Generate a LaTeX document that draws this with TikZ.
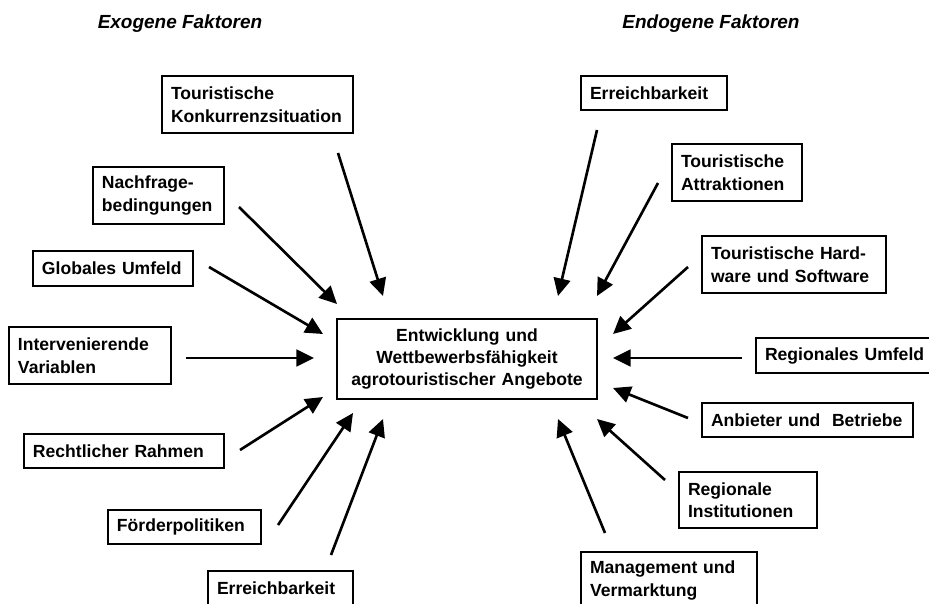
\documentclass[tikz,border=0pt]{standalone}
\usepackage{fontspec}
\setmainfont{Liberation Sans}
\usetikzlibrary{arrows.meta}

\tikzset{
  faktor/.style={draw, line width=0.9pt, anchor=north west, outer sep=0pt,
    inner xsep=0.18cm, inner ysep=1pt, align=left,
    font=\fontsize{10}{12.8}\selectfont\bfseries},
  kern/.style={draw, line width=0.9pt, anchor=north west, outer sep=0pt,
    inner xsep=0.18cm, inner ysep=1pt, align=center,
    text width=4.84cm, minimum height=1.6cm,
    font=\fontsize{10}{12.8}\selectfont\bfseries},
  titel/.style={font=\fontsize{10.8}{13}\selectfont\bfseries\itshape},
  pfeil/.style={line width=1.5pt, -{Triangle[length=10pt,width=9.5pt]}}
}

\begin{document}
\begin{tikzpicture}[x=0.02cm, y=-0.02cm]
  \useasboundingbox (0,0) rectangle (929,604);

  \node[titel] (exo) at (180,24) {Exogene Faktoren};
  \node[titel] (endo) at (711,24) {Endogene Faktoren};

  \node[kern] (ziel) at (337,319) {Entwicklung und\\Wettbewerbsfähigkeit\\agrotouristischer Angebote};

  \begin{scope}
    \node[faktor, text width=3.46cm, minimum height=1.14cm] (konk) at (162,76) {Touristische\\Konkurrenzsituation};
    \node[faktor, text width=2.26cm, minimum height=1.14cm] (nach) at (93,167) {Nachfrage-\\bedingungen};
    \node[faktor, text width=2.84cm, minimum height=0.70cm] (glob) at (33,251) {Globales Umfeld};
    \node[faktor, text width=2.88cm, minimum height=1.14cm] (inter) at (9,327) {Intervenierende\\Variablen};
    \node[faktor, text width=3.64cm, minimum height=0.68cm] (recht) at (24,434) {Rechtlicher Rahmen};
    \node[faktor, text width=2.70cm, minimum height=0.68cm] (foerd) at (108,510) {Förderpolitiken};
    \node[faktor, text width=2.54cm, minimum height=0.68cm] (erbA) at (208,571) {Erreichbarkeit};

    \coordinate (konk-a) at (338,153);  \coordinate (konk-b) at (383,296);
    \coordinate (nach-a) at (239,207);  \coordinate (nach-b) at (337,304);
    \coordinate (glob-a) at (209,267);  \coordinate (glob-b) at (323,334);
    \coordinate (inter-a) at (186,358); \coordinate (inter-b) at (314,358);
    \coordinate (recht-a) at (240,450); \coordinate (recht-b) at (323,397);
    \coordinate (foerd-a) at (278,525); \coordinate (foerd-b) at (353,413);
    \coordinate (erbA-a) at (331,555);  \coordinate (erbA-b) at (383,419);

    \draw[pfeil] (konk-a) -- (konk-b);
    \draw[pfeil] (nach-a) -- (nach-b);
    \draw[pfeil] (glob-a) -- (glob-b);
    \draw[pfeil] (inter-a) -- (inter-b);
    \draw[pfeil] (recht-a) -- (recht-b);
    \draw[pfeil] (foerd-a) -- (foerd-b);
    \draw[pfeil] (erbA-a) -- (erbA-b);
  \end{scope}

  \begin{scope}
    \node[faktor, text width=2.56cm, minimum height=0.68cm] (erbB) at (581,76) {Erreichbarkeit};
    \node[faktor, text width=2.24cm, minimum height=1.14cm] (attr) at (672,144) {Touristische\\Attraktionen};
    \node[faktor, text width=3.32cm, minimum height=1.14cm] (hard) at (702,236) {Touristische Hard-\\ware und Software};
    \node[faktor, text width=3.32cm, minimum height=0.70cm] (regu) at (756,338) {Regionales Umfeld};
    \node[faktor, text width=3.86cm, minimum height=0.68cm] (anb) at (702,403) {Anbieter und\ \ Betriebe};
    \node[faktor, text width=2.40cm, minimum height=1.12cm] (inst) at (679,472) {Regionale\\Institutionen};
    \node[faktor, text width=3.16cm, minimum height=1.14cm] (mgmt) at (581,552) {Management und\\Vermarktung};

    \coordinate (erbB-a) at (597,130); \coordinate (erbB-b) at (558,296);
    \coordinate (attr-a) at (658,183); \coordinate (attr-b) at (597,296);
    \coordinate (hard-a) at (688,267); \coordinate (hard-b) at (613,334);
    \coordinate (regu-a) at (742,358); \coordinate (regu-b) at (613,358);
    \coordinate (anb-a) at (688,418);  \coordinate (anb-b) at (613,388);
    \coordinate (inst-a) at (665,480); \coordinate (inst-b) at (597,419);
    \coordinate (mgmt-a) at (605,533); \coordinate (mgmt-b) at (558,419);

    \draw[pfeil] (erbB-a) -- (erbB-b);
    \draw[pfeil] (attr-a) -- (attr-b);
    \draw[pfeil] (hard-a) -- (hard-b);
    \draw[pfeil] (regu-a) -- (regu-b);
    \draw[pfeil] (anb-a) -- (anb-b);
    \draw[pfeil] (inst-a) -- (inst-b);
    \draw[pfeil] (mgmt-a) -- (mgmt-b);
  \end{scope}
\end{tikzpicture}
\end{document}
